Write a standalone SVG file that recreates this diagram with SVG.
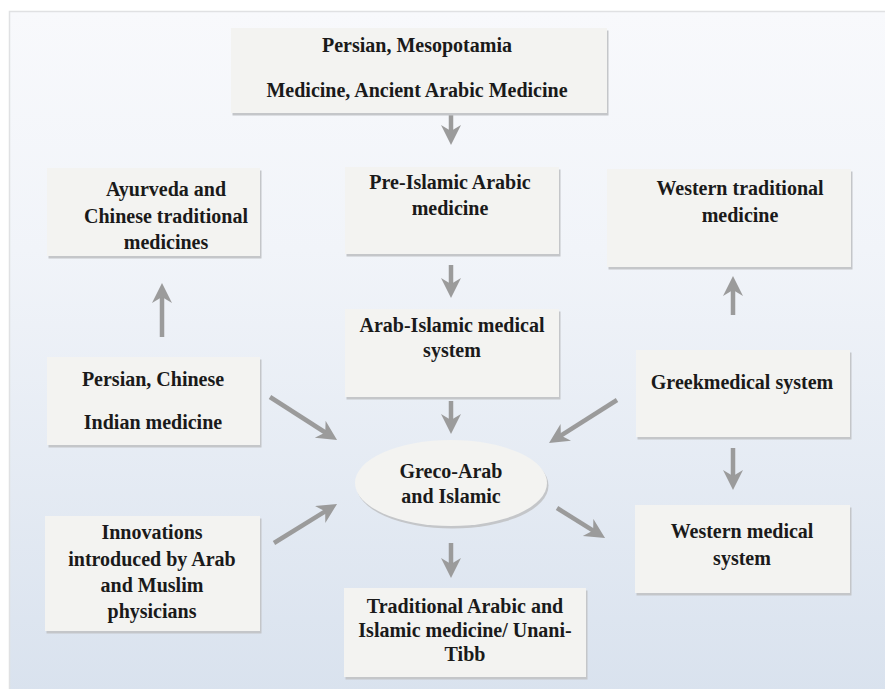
<svg xmlns="http://www.w3.org/2000/svg" width="885" height="689" viewBox="0 0 885 689">
<defs>
<linearGradient id="bg" x1="0" y1="0" x2="0" y2="1">
<stop offset="0" stop-color="#f8f9fc"/>
<stop offset="0.35" stop-color="#f1f4f9"/>
<stop offset="1" stop-color="#d9e2ee"/>
</linearGradient>
<marker id="ah" markerUnits="userSpaceOnUse" markerWidth="22" markerHeight="22" viewBox="0 0 22 22" refX="7" refY="10" orient="auto">
<path d="M0,0 L20,10 L0,20 L6,10 Z" fill="#9b9b9b"/>
</marker>
</defs>
<style>
.box{fill:#f3f3f1}
.sh{fill:#c4c6c9}
.t{font-family:"Liberation Serif","Times New Roman",serif;font-weight:bold;font-size:20px;fill:#1a1a1a;text-anchor:middle}
.c{stroke:#9b9b9b;stroke-width:4.5;fill:none;marker-end:url(#ah)}
</style>
<rect x="0" y="0" width="885" height="689" fill="#ffffff"/>
<rect x="9.5" y="11.5" width="880" height="682" fill="url(#bg)" stroke="#e0e1e3" stroke-width="1.5"/>

<g id="connectors">
<line class="c" x1="451" y1="113" x2="451" y2="132"/>
<line class="c" x1="451" y1="265" x2="451" y2="285"/>
<line class="c" x1="451" y1="401" x2="451" y2="421"/>
<line class="c" x1="162" y1="337" x2="162" y2="296"/>
<line class="c" x1="733" y1="315" x2="733" y2="289"/>
<line class="c" x1="733" y1="448" x2="733" y2="477"/>
<line class="c" x1="451" y1="543" x2="451" y2="565"/>
<line class="c" x1="270" y1="397" x2="326.1" y2="433"/>
<line class="c" x1="617" y1="400" x2="560" y2="436.1"/>
<line class="c" x1="274" y1="543" x2="326" y2="510.8"/>
<line class="c" x1="557" y1="508" x2="594" y2="531.1"/>
</g>

<g id="n-top">
<rect class="sh" x="232.5" y="30.5" width="376" height="85"/>
<rect class="box" x="231" y="28" width="376" height="85"/>
<text class="t" x="417" y="52">Persian, Mesopotamia</text>
<text class="t" x="417" y="97">Medicine, Ancient Arabic Medicine</text>
</g>

<g id="n-ayurveda">
<rect class="sh" x="48.5" y="170.5" width="213" height="88"/>
<rect class="box" x="47" y="168" width="213" height="88"/>
<text class="t" x="166" y="196">Ayurveda and</text>
<text class="t" x="166" y="223">Chinese traditional</text>
<text class="t" x="166" y="249">medicines</text>
</g>

<g id="n-persian">
<rect class="sh" x="48.5" y="359.5" width="213" height="88"/>
<rect class="box" x="47" y="357" width="213" height="88"/>
<text class="t" x="153" y="386">Persian, Chinese</text>
<text class="t" x="153" y="429">Indian medicine</text>
</g>

<g id="n-innovations">
<rect class="sh" x="46.5" y="518.5" width="215" height="115"/>
<rect class="box" x="45" y="516" width="215" height="115"/>
<text class="t" x="152" y="539">Innovations</text>
<text class="t" x="152" y="566">introduced by Arab</text>
<text class="t" x="152" y="592">and Muslim</text>
<text class="t" x="152" y="618">physicians</text>
</g>

<g id="n-preislamic">
<rect class="sh" x="346.5" y="169.5" width="214" height="87"/>
<rect class="box" x="345" y="167" width="214" height="87"/>
<text class="t" x="450" y="189">Pre-Islamic Arabic</text>
<text class="t" x="450" y="215">medicine</text>
</g>

<g id="n-arabislamic">
<rect class="sh" x="346.5" y="311.5" width="214" height="88"/>
<rect class="box" x="345" y="309" width="214" height="88"/>
<text class="t" x="452" y="332">Arab-Islamic medical</text>
<text class="t" x="452" y="357">system</text>
</g>

<g id="n-greco">
<ellipse class="sh" cx="452.5" cy="485.5" rx="96" ry="43"/>
<ellipse class="box" cx="451" cy="483" rx="96" ry="43"/>
<text class="t" x="451" y="478">Greco-Arab</text>
<text class="t" x="451" y="503">and Islamic</text>
</g>

<g id="n-traditional">
<rect class="sh" x="345.5" y="590.5" width="242" height="89"/>
<rect class="box" x="344" y="588" width="242" height="89"/>
<text class="t" x="465" y="613">Traditional Arabic and</text>
<text class="t" x="465" y="637">Islamic medicine/ Unani-</text>
<text class="t" x="465" y="661">Tibb</text>
</g>

<g id="n-westtrad">
<rect class="sh" x="608.5" y="171.5" width="244" height="98"/>
<rect class="box" x="607" y="169" width="244" height="98"/>
<text class="t" x="740" y="195">Western traditional</text>
<text class="t" x="740" y="222">medicine</text>
</g>

<g id="n-greek">
<rect class="sh" x="637.5" y="352.5" width="214" height="87"/>
<rect class="box" x="636" y="350" width="214" height="87"/>
<text class="t" x="742" y="389">Greekmedical system</text>
</g>

<g id="n-westmed">
<rect class="sh" x="636.5" y="507.5" width="215" height="88"/>
<rect class="box" x="635" y="505" width="215" height="88"/>
<text class="t" x="742" y="538">Western medical</text>
<text class="t" x="742" y="565">system</text>
</g>
</svg>
